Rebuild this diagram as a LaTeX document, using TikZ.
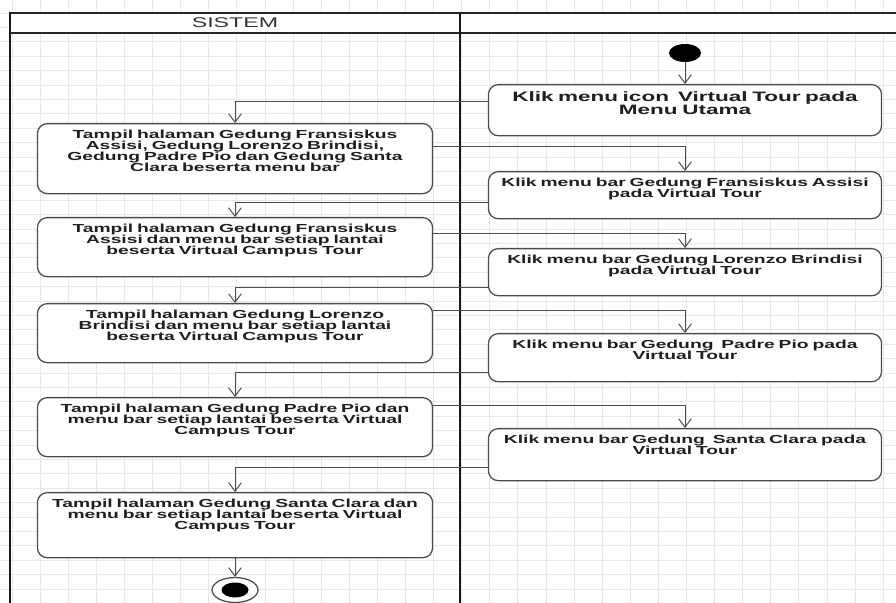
\documentclass[tikz,border=0pt]{standalone}
\usepackage{fontspec}
\setmainfont{Liberation Sans}
\newfontfamily\actfont{Liberation Sans}[FakeStretch=1.65]
\usepackage{tikz}
\usetikzlibrary{arrows.meta,positioning,calc,shapes.geometric}

\begin{document}
\begin{tikzpicture}[
  x=0.025cm, y=-0.025cm,
  every node/.style={align=center},
  gridline/.style={draw=black!9, line width=0.4pt},
  lane/.style={line width=2pt, black!90},
  laneh/.style={line width=1.4pt, black!85},
  box/.style={rectangle, draw=black!70, fill=white, line width=0.9pt, rounded corners=7pt, anchor=north, inner sep=0pt, text=black!88, font={\actfont\bfseries\fontsize{8.3}{7.8}\selectfont\lineskiplimit=-20pt\relax}, text height=10.7pt},
  leftbox/.style={box, text width=9.875cm},
  rightbox/.style={box, text width=9.825cm},
  arrow/.style={-{Straight Barb[length=6pt,width=9pt]}, draw=black!70, line width=0.7pt}
]
\useasboundingbox (0,0) rectangle (896,603);

% Background grid
\foreach \gx in {0,...,31} \draw[gridline] ({11.9+28.1*\gx},0) -- ++(0,603);
\foreach \gy in {0,...,40} \draw[gridline] (0,{12.9+14.4*\gy}) -- ++(896,0);

% Swimlanes
\fill[white] (10,13) rectangle (896,33);
\draw[laneh] (10,13) -- (896,13);
\draw[laneh] (10,33) -- (896,33);
\draw[lane] (10,12) -- (10,603);
\draw[lane] (460,12) -- (460,603);
\node[font=\actfont\fontsize{10}{12}\selectfont, text=black!80] (sistem) at (235,23) {SISTEM};

% Start and end
\node[ellipse, fill=black, minimum width=0.8cm, minimum height=0.45cm, inner sep=0pt] (start) at (685,53) {};
\node[ellipse, draw=black!70, fill=white, line width=0.9pt, minimum width=1.15cm, minimum height=0.625cm, inner sep=0pt] (stop) at (235,590) {};
\fill (stop.center) ellipse [x radius=9.6pt, y radius=5.3pt];

% Right lane: user actions
\node[rightbox, font={\actfont\bfseries\fontsize{9.7}{9}\selectfont\lineskiplimit=-20pt\relax}, text height=12.1pt, text depth=24.2pt] (klikIcon) at (685,84) {
  Klik menu icon~ Virtual Tour pada\\
  Menu Utama
};
\node[rightbox, text depth=22.8pt] (klikAssisi) at (685,171) {
  Klik menu bar Gedung Fransiskus Assisi\\
  pada Virtual Tour
};
\node[rightbox, text depth=22.8pt] (klikLorenzo) at (685,248) {
  Klik menu bar Gedung Lorenzo Brindisi\\
  pada Virtual Tour
};
\node[rightbox, text depth=23.5pt] (klikPadre) at (685,333) {
  Klik menu bar Gedung~ Padre Pio pada\\
  Virtual Tour
};
\node[rightbox, text depth=26.3pt] (klikSanta) at (685,428) {
  Klik menu bar Gedung~ Santa Clara pada\\
  Virtual Tour
};

% Left lane: system responses
\node[leftbox, text depth=39.1pt] (tampilAll) at (235,123) {
  Tampil halaman Gedung Fransiskus\\
  Assisi, Gedung Lorenzo Brindisi,\\
  Gedung Padre Pio dan Gedung Santa\\
  Clara beserta menu bar
};
\node[leftbox, text depth=31.3pt] (tampilAssisi) at (235,217) {
  Tampil halaman Gedung Fransiskus\\
  Assisi dan menu bar setiap lantai\\
  beserta Virtual Campus Tour
};
\node[leftbox, text depth=31.3pt] (tampilLorenzo) at (235,303) {
  Tampil halaman Gedung Lorenzo\\
  Brindisi dan menu bar setiap lantai\\
  beserta Virtual Campus Tour
};
\node[leftbox, text depth=31.3pt] (tampilPadre) at (235,397) {
  Tampil halaman Gedung Padre Pio dan\\
  menu bar setiap lantai beserta Virtual\\
  Campus Tour
};
\node[leftbox, text depth=35.6pt] (tampilSanta) at (235,492) {
  Tampil halaman Gedung Santa Clara dan\\
  menu bar setiap lantai beserta Virtual\\
  Campus Tour
};

% Arrows
\draw[arrow] (start) -- (klikIcon);
\draw[arrow] ($(klikIcon.north west)+(0,17)$) -| (tampilAll.north);
\draw[arrow] ($(tampilAll.north east)+(0,23)$) -| (klikAssisi.north);
\draw[arrow] ($(klikAssisi.north west)+(0,31)$) -| (tampilAssisi.north);
\draw[arrow] ($(tampilAssisi.north east)+(0,16)$) -| (klikLorenzo.north);
\draw[arrow] ($(klikLorenzo.north west)+(0,39)$) -| (tampilLorenzo.north);
\draw[arrow] ($(tampilLorenzo.north east)+(0,7)$) -| (klikPadre.north);
\draw[arrow] ($(klikPadre.north west)+(0,39)$) -| (tampilPadre.north);
\draw[arrow] ($(tampilPadre.north east)+(0,8)$) -| (klikSanta.north);
\draw[arrow] ($(klikSanta.north west)+(0,39)$) -| (tampilSanta.north);
\draw[arrow] (tampilSanta) -- (stop);

\end{tikzpicture}
\end{document}
